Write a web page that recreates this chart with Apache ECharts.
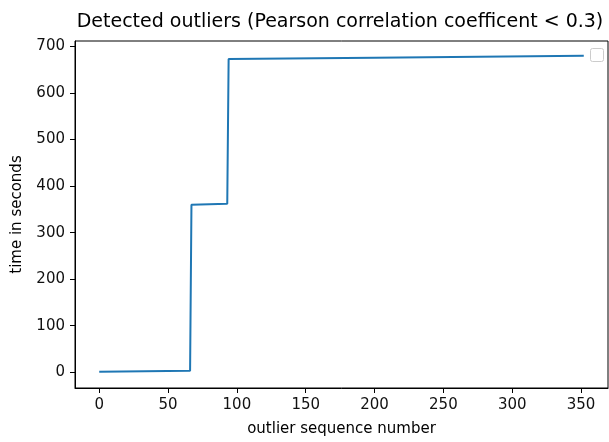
<!DOCTYPE html>
<html>
<head>
<meta charset="utf-8">
<script src="https://cdn.jsdelivr.net/npm/echarts@6/dist/echarts.min.js"></script>
<style>html,body{margin:0;padding:0;background:#fff}#c{width:609px;height:442px}</style>
</head>
<body>
<div id="c"></div>
<script>
// Breakpoints of the step curve
const seqNumbers = [0, 66, 67, 93, 94, 200, 352];
const timeSeconds = [1, 3, 360, 362, 673, 676, 680];
const xTicks = [0, 50, 100, 150, 200, 250, 300, 350];
const yTicks = [0, 100, 200, 300, 400, 500, 600, 700];
const titleText = 'Detected outliers (Pearson correlation coefficent < 0.3)';
const xName = 'outlier sequence number';
const yName = 'time in seconds';

const FONT = 'DejaVu Sans';
const chart = echarts.init(document.getElementById('c'), null, {renderer: 'canvas'});
const lineData = seqNumbers.map((x, i) => [x, timeSeconds[i]]);

chart.setOption({
  animation: false,
  backgroundColor: '#fff',
  grid: {left: 75, right: 1, top: 41, bottom: 53, show: true, borderColor: '#000', borderWidth: 1, containLabel: false},
  xAxis: {
    type: 'value', min: -17.6, max: 369.6,
    name: xName, nameLocation: 'middle', nameGap: 34,
    nameTextStyle: {fontFamily: FONT, fontSize: 15, color: '#000'},
    axisLine: {show: true, onZero: false, lineStyle: {color: '#000', width: 1}},
    axisTick: {show: true, length: 5, customValues: xTicks, lineStyle: {color: '#000', width: 1}},
    axisLabel: {customValues: xTicks, fontFamily: FONT, fontSize: 15, color: '#111', margin: 10},
    splitLine: {show: false}
  },
  yAxis: {
    type: 'value', min: -33.9, max: 711.9,
    name: yName, nameLocation: 'middle', nameGap: 50, nameRotate: 90,
    nameTextStyle: {fontFamily: FONT, fontSize: 15, color: '#000'},
    axisLine: {show: true, onZero: false, lineStyle: {color: '#000', width: 1}},
    axisTick: {show: true, length: 5, customValues: yTicks, lineStyle: {color: '#000', width: 1}},
    axisLabel: {customValues: yTicks, fontFamily: FONT, fontSize: 15, color: '#111', margin: 10},
    splitLine: {show: false}
  },
  graphic: [
    {type: 'text', x: 340, y: 13, style: {text: titleText, font: '19px "DejaVu Sans"', fill: '#000', align: 'center', verticalAlign: 'top'}},
    {type: 'rect', shape: {x: 590.5, y: 48.5, width: 13, height: 13, r: 2}, style: {fill: 'rgba(255,255,255,0.8)', stroke: '#cccccc', lineWidth: 1}, z: 10}
  ],
  series: [{
    type: 'line', data: lineData, showSymbol: false, symbol: 'none',
    lineStyle: {color: '#1f77b4', width: 2},
    itemStyle: {color: '#1f77b4'}
  }]
});
</script>
</body>
</html>
